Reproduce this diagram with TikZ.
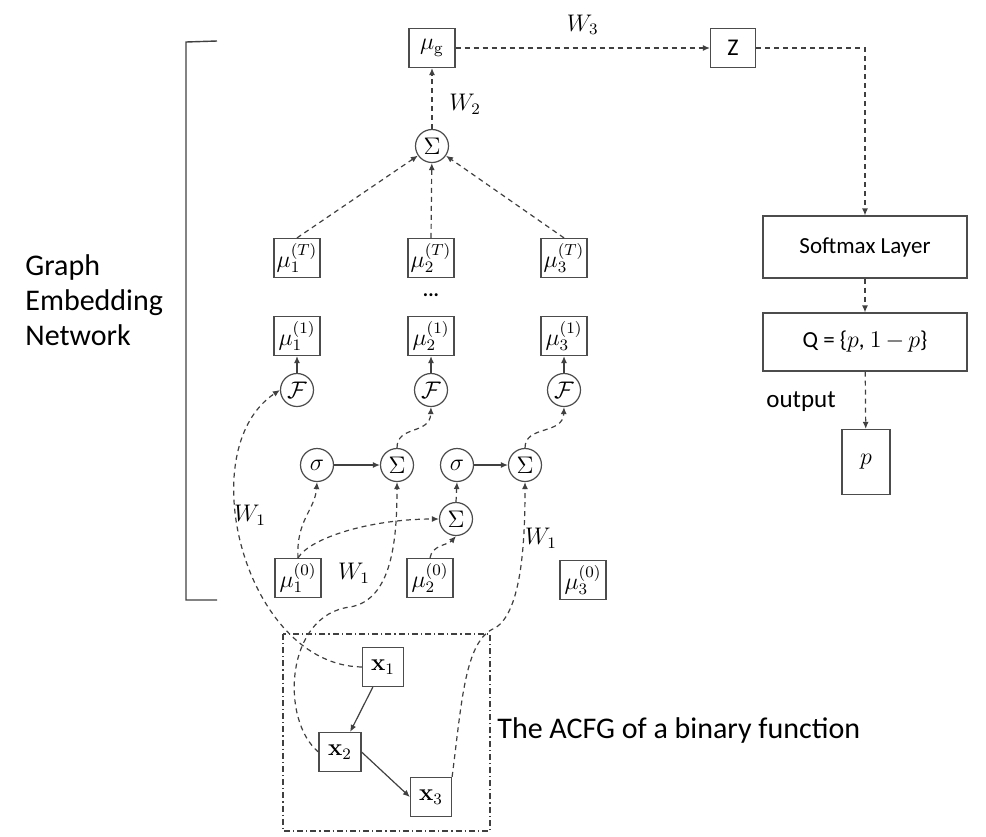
\documentclass[tikz,border=0pt]{standalone}
\usepackage[no-math]{fontspec}
\setmainfont{Carlito}
\usetikzlibrary{arrows.meta}

\tikzset{
  unitbox/.style={draw=black!70, line width=0.6pt, inner sep=0pt,
    minimum width=23pt, minimum height=19.5pt, font=\fontsize{12}{14}\selectfont},
  opnode/.style={draw=black!70, circle, line width=0.6pt, inner sep=0pt,
    minimum size=16.5pt, font=\fontsize{12}{14}\selectfont},
  dashflow/.style={black!75, line width=0.6pt, dash pattern=on 2.5pt off 2pt,
    -{Latex[length=3.5pt,width=3pt]}},
  solidflow/.style={black!75, line width=0.6pt,
    -{Latex[length=3.5pt,width=3pt]}},
  wlabel/.style={text=black, font=\fontsize{11.5}{13}\selectfont},
  bigtext/.style={font=\fontsize{15}{17.5}\selectfont, align=left, inner sep=0pt},
}

\begin{document}
\begin{tikzpicture}[x=0.5pt,y=-0.5pt]
  \useasboundingbox (0,0) rectangle (986,836);
  % Bracket round the embedding network
  \draw[black!75, line width=0.7pt] (217,41) -- (186,42) -- (186,600) -- (217,600);
  \node[bigtext, anchor=west] (gen) at (25,300) {Graph\\Embedding\\Network};

  % Graph embedding and output side
  \node[unitbox] (mug) at (432,48) {$\mu_{\mathrm{g}}$};
  \node[unitbox, minimum width=22.5pt] (zbox) at (733,48) {Z};
  \node[unitbox, minimum width=102pt, minimum height=31pt,
    font=\fontsize{11.5}{13}\selectfont] (softmax) at (865,247) {Softmax Layer};
  \node[unitbox, minimum width=102pt, minimum height=29pt,
    font=\fontsize{11.5}{13}\selectfont] (qbox) at (865,342)
    {Q = \{$p$, $1\mskip3mu{-}\mskip3mu p$\}};
  \node[unitbox, minimum width=24pt, minimum height=32.5pt] (pbox) at (866,462) {$p$};
  \node[font=\fontsize{12.5}{14}\selectfont] (outlab) at (801,402) {output};

  \draw[dashflow] (mug) -- (zbox) node[wlabel, midway, above=3pt] {$W_3$};
  \draw[dashflow] (zbox.east) -| (softmax.north);
  \draw[dashflow] (softmax) -- (qbox);
  \draw[dashflow] (qbox) -- (pbox);

  % Top level sum
  \node[opnode] (sumg) at (432,146) {$\Sigma$};
  \draw[dashflow] (sumg) -- (mug) node[wlabel, pos=0.4, right=5pt] {$W_2$};

  % Node columns: T-th and first iteration
  \foreach \i/\x in {1/297, 2/431, 3/564}{
    \node[unitbox] (muT\i) at (\x,258) {$\mu_{\i}^{(T)}$};
    \node[unitbox] (muone\i) at (\x,336) {$\mu_{\i}^{(1)}$};
    \node[opnode] (F\i) at (\x,390) {$\mathcal{F}$};
    \draw[solidflow] (F\i) -- (muone\i);
    \draw[dashflow] (muT\i.north) -- (sumg);
  }
  \node[font=\bfseries] (vdots) at (431,295) {...};

  % Neighbour aggregation
  \node[opnode] (sig1) at (317,465) {$\sigma$};
  \node[opnode] (sum1) at (397,465) {$\Sigma$};
  \node[opnode] (sig2) at (457,465) {$\sigma$};
  \node[opnode] (sum2) at (525,465) {$\Sigma$};
  \node[opnode] (sum0) at (456,519) {$\Sigma$};
  \draw[solidflow] (sig1) -- (sum1);
  \draw[solidflow] (sig2) -- (sum2);

  % Initial embeddings
  \node[unitbox] (muz1) at (298,578) {$\mu_{1}^{(0)}$};
  \node[unitbox] (muz2) at (430,578) {$\mu_{2}^{(0)}$};
  \node[unitbox] (muz3) at (583,580) {$\mu_{3}^{(0)}$};

  \draw[dashflow] (muz1.north) .. controls (296,520) and (315,510) .. (sig1.south);
  \draw[dashflow] (muz1.north) .. controls (310,538) and (370,519) .. (sum0.west);
  \draw[dashflow] (muz2.north) .. controls (432,545) and (448,545) .. (sum0.south);
  \draw[dashflow] (sum0.north) -- (sig2.south);
  \draw[dashflow] (sum1.north) .. controls (397,425) and (430,435) .. (F2.south);
  \draw[dashflow] (sum2.north) .. controls (525,425) and (563,435) .. (F3.south);

  % The ACFG
  \draw[black!75, line width=0.6pt, dash pattern=on 3pt off 1.5pt on 0.6pt off 1.5pt]
    (283,634) rectangle (490,831);
  \node[unitbox, minimum width=20.5pt] (x1) at (383,667) {$\mathbf{x}_1$};
  \node[unitbox, minimum width=21pt] (x2) at (340,752) {$\mathbf{x}_2$};
  \node[unitbox, minimum width=20.5pt] (x3) at (431,797) {$\mathbf{x}_3$};
  \node[bigtext, anchor=west] (acfg) at (497,730) {The ACFG of a binary function};
  \draw[solidflow] (x1) -- (x2);
  \draw[solidflow] (x2.east) -- (x3.west);

  % Attribute inputs with W1
  \draw[dashflow] (x1.west) .. controls (245,665) and (190,450) .. (F1.west);
  \draw[dashflow] (x2.west) .. controls (280,720) and (285,615) .. (350,607)
    .. controls (392,600) and (397,540) .. (sum1.south);
  \draw[dashflow] (x3.north east) .. controls (462,700) and (465,640) .. (495,628)
    .. controls (522,612) and (525,540) .. (sum2.south);
  \node[wlabel] (wa) at (250,515) {$W_1$};
  \node[wlabel] (wb) at (354,573) {$W_1$};
  \node[wlabel] (wc) at (541,538) {$W_1$};
\end{tikzpicture}
\end{document}
